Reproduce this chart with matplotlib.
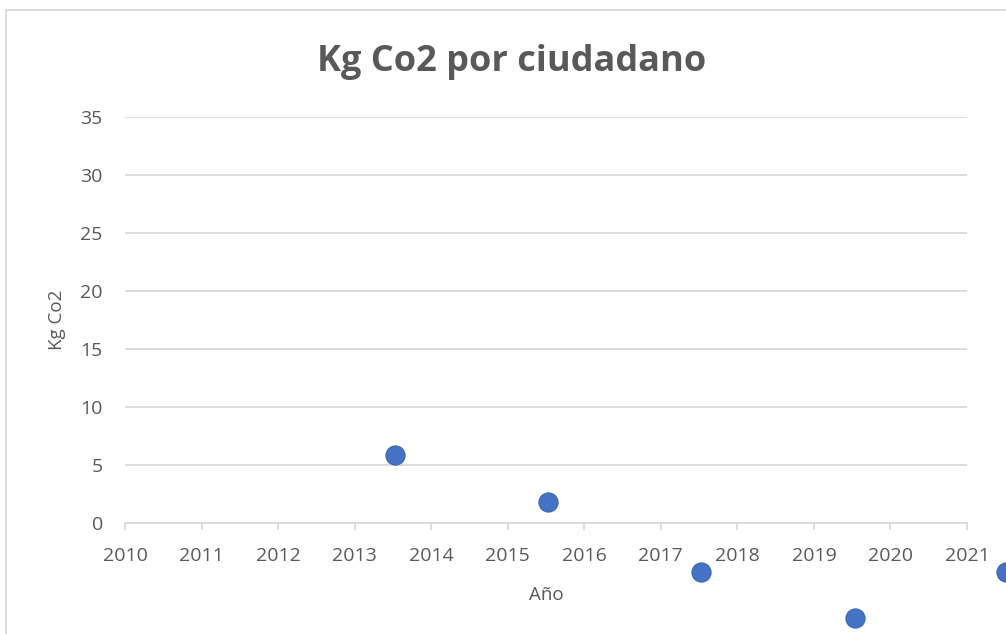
import matplotlib.pyplot as plt
from matplotlib.lines import Line2D

years = [2013.53, 2015.53, 2017.52, 2019.54, 2021.51]
kg_co2 = [5.9, 1.85, -4.2, -8.2, -4.2]
x_ticks = list(range(2010, 2022))
y_ticks = list(range(0, 36, 5))

plt.rcParams['font.family'] = ['Open Sans', 'DejaVu Sans']
text_col = '#595959'
grid_col = '#d9d9d9'

fig = plt.figure(figsize=(10.06, 6.34), dpi=100)
ax = fig.add_axes([125/1006, 111/634, 842/1006, 406/634])

ax.scatter(years, kg_co2, s=190, color='#4472C4', edgecolors='#3a64b0',
           linewidths=0.8, zorder=5, clip_on=False)

ax.set_xlim(2010, 2021)
ax.set_ylim(0, 35)
ax.set_xticks(x_ticks)
ax.set_yticks(y_ticks)
ax.yaxis.grid(True, color=grid_col, linewidth=1.3)
ax.set_axisbelow(True)
for s in ['top', 'right', 'left']:
    ax.spines[s].set_visible(False)
ax.spines['bottom'].set_color(grid_col)
ax.spines['bottom'].set_linewidth(1.3)
ax.tick_params(axis='y', length=0, pad=16, labelsize=14, labelcolor=text_col)
ax.tick_params(axis='x', length=5, width=1.3, color=grid_col, pad=12.5,
               labelsize=14, labelcolor=text_col)

ax.set_xlabel('Año', fontsize=13.5, color=text_col, labelpad=15)
ax.set_ylabel('Kg Co2', fontsize=13.5, color=text_col, labelpad=10)
fig.text(0.509, 0.902, 'Kg Co2 por ciudadano', ha='center', va='center',
         fontsize=26, fontweight='bold', color=text_col)

# chart frame (cropped on right and bottom)
fig.add_artist(Line2D([6/1006, 6/1006], [0, 1 - 10/634], color=grid_col, lw=1.3))
fig.add_artist(Line2D([6/1006, 1], [1 - 10/634, 1 - 10/634], color=grid_col, lw=1.3))

fig.savefig('out.png', dpi=100)
